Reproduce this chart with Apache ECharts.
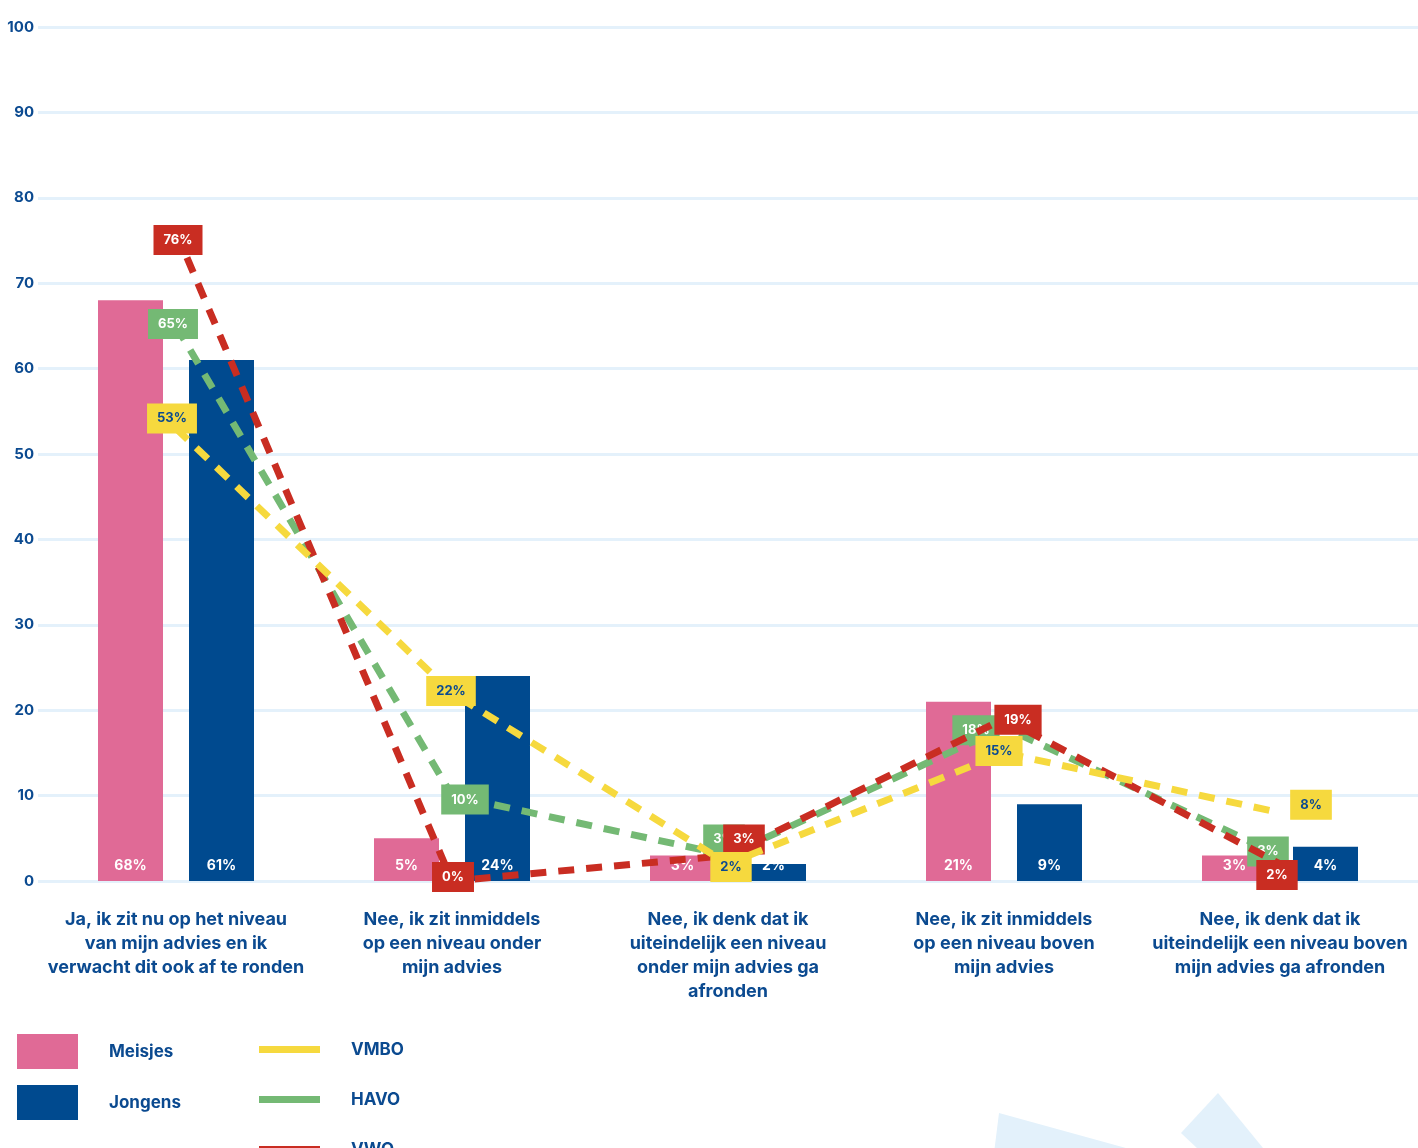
<!DOCTYPE html>
<html>
<head>
<meta charset="utf-8">
<script src="https://cdn.jsdelivr.net/npm/echarts@6/dist/echarts.min.js"></script>
<style>
html,body{margin:0;padding:0;background:#fff;}
#chart{width:1418px;height:1148px;}
</style>
</head>
<body>
<div id="chart"></div>
<script>
const categories = [
  "Ja, ik zit nu op het niveau\nvan mijn advies en ik\nverwacht dit ook af te ronden",
  "Nee, ik zit inmiddels\nop een niveau onder\nmijn advies",
  "Nee, ik denk dat ik\nuiteindelijk een niveau\nonder mijn advies ga\nafronden",
  "Nee, ik zit inmiddels\nop een niveau boven\nmijn advies",
  "Nee, ik denk dat ik\nuiteindelijk een niveau boven\nmijn advies ga afronden"
];
const meisjes = [68, 5, 3, 21, 3];
const jongens = [61, 24, 2, 9, 4];
const vmbo = [53, 22, 2, 15, 8];
const havo = [65, 10, 3, 18, 3];
const vwo = [76, 0, 3, 19, 2];

// label placement (kept apart from the values)
const vmboOffsets = [[-4,-10],[-1,-2],[3,3],[-5,-2],[31,-8]];
const havoOffsets = [[-3,-2],[13,4],[-4,-16],[-28,3],[-12,-4]];
const vwoOffsets  = [[2,8],[1,-4],[16,-16],[14,1],[-3,11]];

const C = {
  pink: '#e06a96', blue: '#004a8f', yellow: '#f6d93e', green: '#74b974', red: '#c92d22',
  text: '#0b4a90', grid: '#e4f1fb'
};
const FONT = 'Inter, "Open Sans", sans-serif';

function lineSeries(name, values, offsets, color, textColor, z) {
  return {
    name, type: 'line', data: values.map((v, i) => ({
      value: v,
      label: { offset: offsets[i] }
    })),
    z,
    color,
    symbol: 'circle', symbolSize: 0.1,
    itemStyle: { color, borderWidth: 0 },
    lineStyle: { color, width: 7, type: [16, 12], cap: 'butt' },
    label: {
      show: true, position: 'inside', formatter: '{c}%',
      backgroundColor: color, color: textColor,
      padding: [9, 10, 8, 10], fontSize: 13, fontWeight: 'bold', fontFamily: FONT
    },
    emphasis: { disabled: true },
    animation: false
  };
}

const legendText = { color: C.text, fontSize: 17, fontWeight: 'bold', fontFamily: FONT, padding: [0, 0, 0, 26] };
const chart = echarts.init(document.getElementById('chart'), null, { renderer: 'canvas' });
const lineIcon = 'path://M0,0h0.01v0.01h-0.01zM0,14h61v7h-61zM60.99,34.99h0.01v0.01h-0.01z';
chart.setOption({
  backgroundColor: '#ffffff',
  animation: false,
  textStyle: { fontFamily: FONT },
  grid: { left: 38, right: 0, top: 27, bottom: 267, containLabel: false },
  legend: [
    {
      data: ['Meisjes', 'Jongens'],
      orient: 'vertical', left: 17, top: 1034, padding: 0,
      itemWidth: 61, itemHeight: 35, itemGap: 16, icon: 'rect',
      itemStyle: { borderWidth: 0 },
      textStyle: legendText,
      selectedMode: false
    },
    {
      data: ['VMBO', 'HAVO'],
      orient: 'vertical', left: 259, top: 1032, padding: 0,
      itemWidth: 61, itemHeight: 35, itemGap: 15, icon: lineIcon,
      itemStyle: { borderWidth: 0 },
      lineStyle: { width: 0 },
      textStyle: legendText,
      selectedMode: false
    },
    {
      data: ['VWO'],
      orient: 'vertical', left: 259, top: 1132, padding: 0,
      itemWidth: 61, itemHeight: 35, itemGap: 15, icon: lineIcon,
      itemStyle: { borderWidth: 0 },
      lineStyle: { width: 0 },
      textStyle: legendText,
      selectedMode: false
    }
  ],
  xAxis: {
    type: 'category', data: categories,
    axisLine: { show: false }, axisTick: { show: false },
    axisLabel: {
      interval: 0, color: C.text, fontSize: 18, fontWeight: 'bold', lineHeight: 24,
      margin: 27, fontFamily: FONT, align: 'center'
    }
  },
  yAxis: {
    type: 'value', min: 0, max: 100, interval: 10,
    axisLine: { show: false }, axisTick: { show: false },
    axisLabel: { color: C.text, fontSize: 15, fontWeight: 'bold', margin: 4, fontFamily: FONT },
    splitLine: { lineStyle: { color: C.grid, width: 3 } }
  },
  graphic: [
    { type: 'polygon', z: -10, shape: { points: [[999,1113],[1260,1185],[990,1185]] }, style: { fill: '#e3f1fb' } },
    { type: 'polygon', z: -10, shape: { points: [[1218,1093],[1290,1181],[1232,1181],[1181,1133]] }, style: { fill: '#e3f1fb' } }
  ],
  series: [
    {
      name: 'Meisjes', type: 'bar', data: meisjes, barWidth: 65, barGap: '40%',
      itemStyle: { color: C.pink },
      label: { show: true, position: 'insideBottom', distance: 8, formatter: '{c}%', color: '#fff', fontSize: 14, fontWeight: 'bold', fontFamily: FONT },
      emphasis: { disabled: true }
    },
    {
      name: 'Jongens', type: 'bar', data: jongens, barWidth: 65,
      itemStyle: { color: C.blue },
      label: { show: true, position: 'insideBottom', distance: 8, formatter: '{c}%', color: '#fff', fontSize: 14, fontWeight: 'bold', fontFamily: FONT },
      emphasis: { disabled: true }
    },
    lineSeries('HAVO', havo, havoOffsets, C.green, '#ffffff', 3),
    lineSeries('VWO', vwo, vwoOffsets, C.red, '#ffffff', 4),
    lineSeries('VMBO', vmbo, vmboOffsets, C.yellow, C.text, 5)
  ]
});
</script>
</body>
</html>
